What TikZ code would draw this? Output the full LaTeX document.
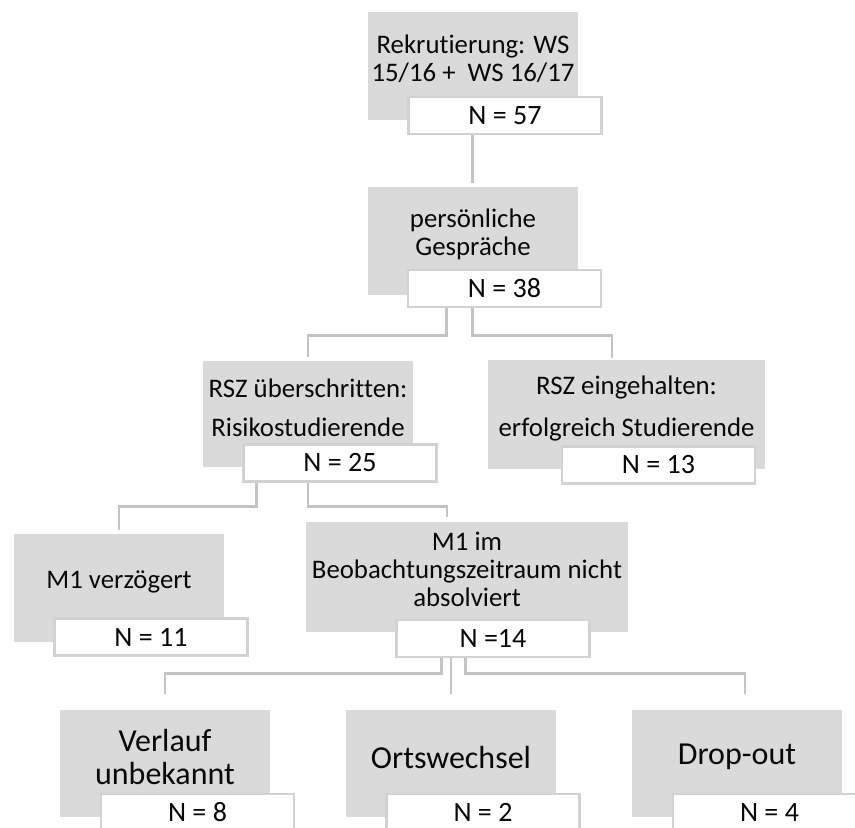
\documentclass[tikz,border=0pt]{standalone}
\usepackage{fontspec}
\setmainfont{Carlito}[Ligatures=NoCommon]
\definecolor{grayfill}{RGB}{218,218,218}
\definecolor{wborder}{RGB}{210,210,210}
\definecolor{connc}{RGB}{196,196,196}
\definecolor{txt}{RGB}{8,8,8}
\begin{document}
\begin{tikzpicture}[x=1pt,y=-1pt,
  gbox/.style={fill=grayfill, draw=none, inner sep=0pt, minimum width=210pt, minimum height=108pt},
  wbox/.style={fill=white, draw=wborder, line width=2.5pt, inner sep=0pt, minimum width=193pt, minimum height=37pt, text=txt, font=\fontsize{28}{30}\selectfont},
  gtext/.style={align=center, inner sep=0pt, text=txt, font=\fontsize{26.8}{28}\selectfont},
  btext/.style={align=center, inner sep=0pt, text=txt, font=\fontsize{32}{33}\selectfont},
  conn/.style={draw=connc, line width=2.6pt}
]
\clip (0,0) rectangle (855,828);
\fill[white] (0,0) rectangle (855,828);

% gray boxes
\node[gbox] (g1) at (473,66) {};
\node[gbox] (g2) at (472.5,241) {};
\node[gbox, minimum height=106pt] (g3) at (308,414) {};
\node[gbox, minimum width=277pt, minimum height=109pt] (g4) at (626.5,414.5) {};
\node[gbox] (g5) at (119,588) {};
\node[gbox, minimum width=322pt, minimum height=110pt] (g6) at (467,577) {};
\node[gbox, minimum height=107pt] (g7) at (165,763.5) {};
\node[gbox, minimum height=107pt] (g8) at (451,763.5) {};
\node[gbox, minimum height=107pt] (g9) at (737,763.5) {};

% white boxes
\node[wbox] (w1) at (505,115.5) {N = 57};
\node[wbox] (w2) at (504.5,288.5) {N = 38};
\node[wbox] (w3) at (340,463) {N = 25};
\node[wbox] (w4) at (658.5,465) {N = 13};
\node[wbox] (w5) at (151,637) {N = 11};
\node[wbox] (w6) at (493,638.5) {N =14};
\node[wbox] (w7) at (197.5,812.5) {N = 8};
\node[wbox] (w8) at (483,812.5) {N = 2};
\node[wbox] (w9) at (769.5,812.5) {N = 4};

% connectors
\draw[conn] (w1.south -| g2.north) -- ([yshift=4pt]g2.north);
\draw[conn] ([xshift=40pt]w2.south west) -- ++(0,27) -| ([yshift=4pt]g3.north);
\draw[conn] (w2.south -| g2.center) -- ++(0,27) -| ([xshift=-14.5pt,yshift=2pt]g4.north);
\draw[conn] ([xshift=14pt]w3.south west) -- ++(0,24) -| ([yshift=4pt]g5.north);
\draw[conn] (w3.south -| g3.center) -- ++(0,24) -| ([xshift=-20pt,yshift=5pt]g6.north);
\draw[conn] ([xshift=46pt]w6.south west) -- ++(0,15) -| ([yshift=16pt]g7.north);
\draw[conn] (w6.south -| g8.north) -- ([yshift=16pt]g8.north);
\draw[conn] ([xshift=70pt]w6.south west) -- ++(0,15) -| ([xshift=8pt,yshift=16pt]g9.north);

% texts in gray boxes
\node[gtext] (t1) at (473,59) {Rekrutierung: WS\\15/16 +~ WS 16/17};
\node[gtext] (t2) at (473,234) {persönliche\\Gespräche};
\node[gtext, font=\fontsize{26.8}{39}\selectfont] (t3) at (308,407.5) {RSZ überschritten:\\Risikostudierende};
\node[gtext, font=\fontsize{26.8}{42}\selectfont] (t4) at (626.5,408) {RSZ eingehalten:\\erfolgreich Studierende};
\node[gtext] (t5) at (119,582) {M1 verzögert};
\node[gtext] (t6) at (467,569) {M1 im\\Beobachtungszeitraum nicht\\absolviert};
\node[btext] (t7) at (165,756.5) {Verlauf\\unbekannt};
\node[btext] (t8) at (451,757) {Ortswechsel};
\node[btext] (t9) at (737,757) {Drop-out};
\end{tikzpicture}
\end{document}
